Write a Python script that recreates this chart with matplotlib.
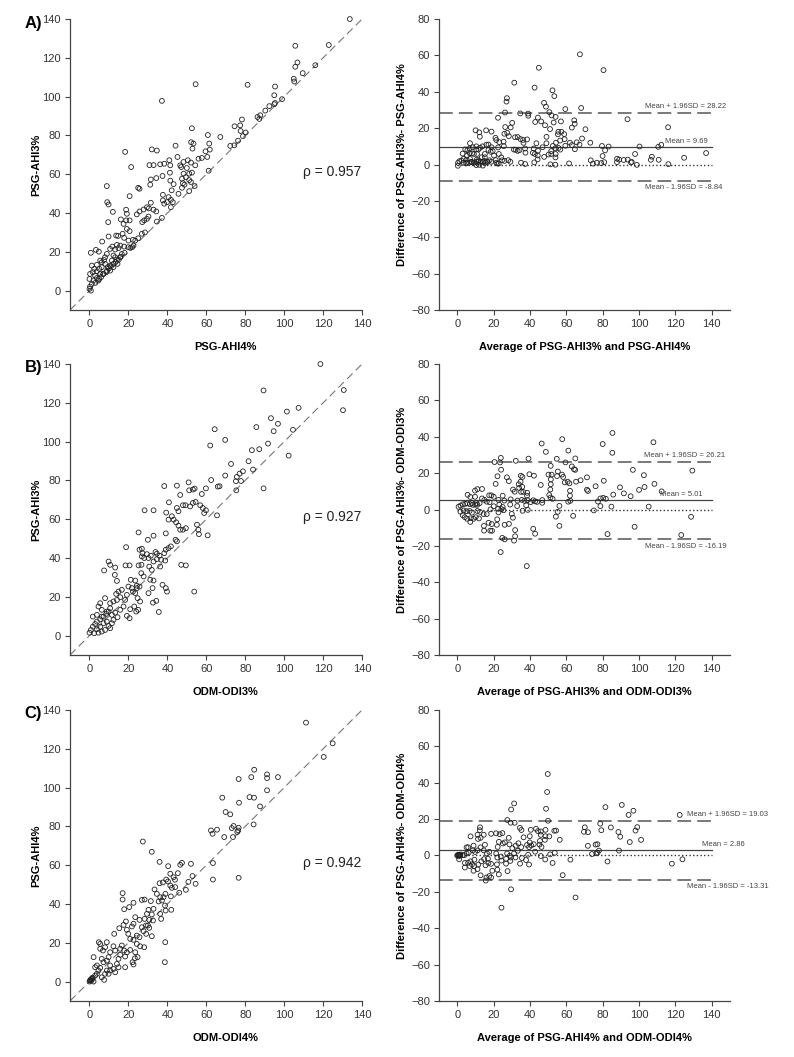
#Imports packages and dependencies
import numpy as np
import matplotlib
matplotlib.use('Agg')
import matplotlib.pyplot as plt

plt.rcParams['font.family'] = ['Liberation Sans', 'DejaVu Sans']

#Panel A: PSG-AHI4% (x) against PSG-AHI3% (y)
a_ahi4 = [
  133.7, 105.7, 122.9, 106.8, 105.7, 116.0, 109.5, 104.9, 105.2, 81.2,
  54.5, 37.2, 95.3, 94.9, 98.9, 94.9, 92.4, 90.3, 87.7, 86.3,
  87.2, 78.3, 74.5, 77.4, 77.6, 80.2, 78.8, 76.3, 74.4, 72.3,
  67.2, 60.8, 61.5, 61.8, 60.5, 61.2, 59.6, 52.6, 52.2, 53.4,
  52.9, 44.2, 32.0, 34.6, 18.3, 21.4, 8.9, 20.6, 9.1, 9.8,
  12.0, 9.6, 30.8, 32.9, 36.3, 38.4, 41.0, 41.5, 41.3, 31.5,
  34.3, 37.5, 31.2, 25.0, 25.7, 41.5, 43.2, 42.2, 45.2, 46.6,
  47.1, 48.3, 50.5, 52.1, 50.0, 51.2, 52.6, 54.3, 56.0, 57.7,
  48.3, 49.5, 47.5, 48.0, 48.8, 47.5, 45.7, 51.2, 52.1, 51.2,
  54.0, 37.7, 37.7, 38.4, 39.8, 40.6, 41.8, 42.8, 41.8, 37.2,
  31.5, 30.5, 32.9, 34.3, 29.5, 27.8, 25.7, 24.3, 30.3, 29.5,
  28.1, 27.1, 34.6, 26.9, 23.5, 22.3, 22.6, 20.0, 18.8, 19.2,
  20.6, 18.8, 16.1, 17.5, 19.2, 20.6, 17.0, 13.7, 14.7, 17.8,
  19.9, 21.9, 17.8, 15.8, 14.1, 14.9, 13.2, 11.7, 8.9, 10.6,
  6.5, 9.8, 3.3, 0.7, 4.8, 12.3, 13.2, 14.1, 11.5, 12.3,
  10.6, 8.0, 7.5, 6.3, 5.1, 3.8, 5.5, 2.9, 2.0, 1.2,
  0.3, 0.0, 0.7, 3.8, 4.6, 7.2, 1.7, 2.4, 1.2, 0.3,
  0.0, 8.0, 5.5, 9.4, 10.6, 8.6, 12.3, 14.4, 15.8, 16.6,
  3.8, 6.3, 5.0, 7.0, 9.0, 11.0, 13.5, 16.0, 18.0, 21.0,
  3.0, 6.0, 10.0, 15.0, 25.0, 28.5, 95.3]
a_ahi3 = [
  140.0, 126.2, 126.6, 117.6, 115.4, 116.2, 112.1, 109.2, 107.8, 106.1,
  106.4, 97.8, 105.2, 100.7, 98.7, 96.1, 95.1, 92.8, 90.4, 89.5,
  88.5, 88.2, 84.7, 85.2, 82.3, 81.5, 79.6, 77.3, 74.9, 74.6,
  79.2, 80.2, 75.8, 72.7, 68.9, 61.8, 71.8, 83.7, 76.5, 75.8,
  73.2, 74.7, 72.8, 72.2, 71.5, 63.7, 53.9, 48.7, 45.6, 44.4,
  40.6, 35.3, 64.7, 64.7, 65.1, 65.4, 67.2, 64.6, 60.8, 57.3,
  58.0, 59.1, 54.6, 53.0, 52.5, 56.7, 54.9, 51.7, 68.9, 64.6,
  63.7, 66.3, 67.2, 66.0, 63.2, 60.3, 60.8, 64.6, 68.0, 68.4,
  60.3, 58.5, 57.7, 55.4, 54.6, 53.0, 49.9, 57.0, 56.0, 51.3,
  53.9, 49.4, 46.5, 44.8, 45.6, 48.2, 46.8, 45.6, 43.0, 37.5,
  45.3, 42.4, 41.7, 40.8, 43.0, 41.8, 40.8, 39.3, 38.2, 37.0,
  36.2, 35.3, 35.6, 29.3, 25.8, 26.2, 23.2, 25.8, 41.7, 39.6,
  36.2, 36.2, 36.7, 34.4, 31.8, 30.7, 29.3, 28.4, 28.2, 27.2,
  22.4, 22.4, 22.7, 23.2, 23.6, 21.9, 21.2, 22.7, 18.9, 21.5,
  25.3, 27.9, 21.0, 19.5, 20.1, 18.1, 17.2, 16.0, 15.5, 13.8,
  12.9, 13.8, 15.8, 12.1, 11.2, 10.0, 8.6, 7.7, 5.2, 3.4,
  2.1, 0.9, 0.0, 6.5, 5.2, 8.6, 9.5, 11.2, 12.9, 8.6,
  6.0, 17.2, 15.5, 12.1, 10.3, 9.5, 12.1, 13.8, 17.2, 18.9,
  13.3, 14.6, 6.0, 8.5, 10.2, 12.5, 14.8, 17.5, 19.5, 22.0,
  4.0, 7.0, 11.5, 16.0, 27.0, 30.0, 96.7]

#Panel B: ODM-ODI3% (x) against PSG-AHI3% (y)
b_odi3 = [
  118.6, 89.4, 130.6, 130.2, 101.4, 107.4, 93.2, 96.8, 85.7, 64.3,
  94.6, 104.5, 69.7, 62.0, 91.7, 102.3, 83.4, 87.2, 81.7, 72.7,
  84.0, 69.7, 78.8, 77.1, 75.7, 77.8, 75.2, 75.4, 89.4, 62.5,
  65.9, 66.8, 59.8, 57.7, 54.0, 53.1, 50.9, 51.2, 46.6, 44.9,
  38.4, 48.0, 49.3, 51.7, 53.1, 54.5, 56.9, 58.2, 58.9, 59.8,
  65.5, 60.7, 55.2, 55.9, 56.2, 44.9, 45.7, 39.4, 40.8, 28.3,
  32.9, 25.2, 32.9, 30.0, 39.2, 43.2, 44.5, 45.7, 46.6, 48.0,
  49.5, 44.2, 44.9, 41.8, 40.6, 18.8, 40.6, 42.3, 39.2, 38.4,
  36.0, 34.6, 33.9, 36.8, 38.9, 31.5, 30.3, 34.6, 32.9, 30.7,
  32.0, 36.3, 25.7, 26.9, 27.2, 26.9, 28.1, 29.5, 25.2, 26.7,
  26.6, 18.5, 20.6, 9.8, 10.6, 13.2, 7.5, 13.0, 14.1, 21.2,
  23.5, 24.3, 25.7, 24.3, 27.8, 39.2, 39.8, 37.5, 31.2, 32.9,
  32.4, 30.3, 34.3, 32.6, 35.6, 47.1, 49.5, 53.8, 20.0, 21.8,
  22.3, 19.2, 18.3, 23.5, 24.7, 26.0, 23.0, 20.9, 20.6, 19.2,
  24.0, 25.0, 16.6, 14.9, 13.7, 15.8, 14.1, 12.3, 10.6, 17.5,
  15.8, 13.2, 11.5, 14.4, 10.6, 9.8, 8.6, 8.0, 6.3, 4.6,
  5.5, 7.2, 5.5, 3.8, 2.9, 1.7, 0.7, 0.0, 2.4, 3.8,
  5.5, 7.2, 8.9, 9.8, 11.5, 10.6, 8.0, 6.3, 4.6, 1.7,
  3.8, 12.3, 8.9, 6.3]
b_ahi3 = [
  140.0, 126.4, 126.6, 116.2, 115.5, 117.4, 112.1, 109.2, 107.5, 106.4,
  105.4, 106.1, 100.9, 98.0, 99.0, 92.8, 95.6, 96.1, 89.9, 88.5,
  85.6, 82.5, 84.7, 83.5, 81.8, 79.7, 79.6, 74.9, 75.9, 80.2,
  76.8, 77.0, 75.9, 73.0, 75.8, 75.3, 79.0, 74.9, 72.5, 77.3,
  77.1, 67.2, 67.2, 66.6, 68.4, 68.9, 67.2, 65.8, 63.2, 64.6,
  62.0, 51.7, 57.2, 54.6, 52.3, 65.8, 64.1, 63.4, 68.7, 64.6,
  64.6, 53.2, 51.5, 49.4, 52.7, 59.8, 58.4, 56.7, 54.6, 54.6,
  55.4, 49.4, 48.6, 46.0, 45.1, 45.6, 59.8, 61.5, 44.3, 42.5,
  41.2, 42.2, 43.1, 39.1, 38.7, 41.2, 40.0, 39.4, 38.2, 35.6,
  33.9, 35.6, 44.3, 44.8, 42.5, 40.8, 40.0, 42.0, 36.2, 36.5,
  32.2, 36.2, 36.2, 38.2, 36.5, 35.1, 33.6, 31.3, 28.2, 28.8,
  28.4, 25.7, 25.3, 24.5, 30.5, 24.5, 22.7, 26.2, 28.8, 28.4,
  24.5, 21.9, 17.9, 17.0, 12.2, 36.5, 36.2, 22.7, 25.3, 24.5,
  22.7, 21.0, 18.4, 21.9, 19.3, 17.6, 15.0, 13.6, 9.0, 10.2,
  12.4, 13.3, 23.6, 22.7, 21.5, 19.8, 18.4, 17.6, 16.7, 15.0,
  13.3, 11.9, 10.7, 9.5, 14.1, 12.4, 11.2, 19.3, 13.3, 15.0,
  16.7, 9.8, 8.4, 7.2, 6.0, 4.6, 2.9, 1.5, 1.2, 3.3,
  4.6, 6.4, 7.2, 5.0, 6.4, 3.8, 2.9, 2.1, 1.5, 9.8,
  10.7, 8.1, 12.4, 9.8]

#Panel C: ODM-ODI4% (x) against PSG-AHI4% (y)
c_odi4 = [
  111.2, 124.9, 120.3, 84.6, 76.6, 83.1, 91.2, 91.2, 96.8, 91.2,
  68.2, 82.2, 84.5, 76.8, 87.6, 69.9, 72.3, 62.4, 63.2, 65.5,
  74.0, 73.1, 76.6, 76.4, 75.9, 69.2, 73.7, 84.3, 63.4, 63.4,
  76.6, 52.1, 47.5, 46.6, 45.4, 40.4, 36.0, 32.0, 27.4, 52.9,
  54.5, 50.8, 49.5, 46.1, 43.2, 43.9, 41.5, 44.0, 40.3, 39.4,
  41.5, 42.3, 36.0, 37.7, 39.0, 38.0, 41.8, 42.0, 33.4, 34.6,
  35.5, 36.3, 37.2, 38.8, 39.1, 36.3, 36.8, 38.9, 38.7, 17.0,
  17.0, 17.8, 26.9, 28.3, 22.6, 20.4, 31.5, 30.3, 32.9, 32.0,
  29.5, 28.3, 30.7, 32.6, 25.7, 23.5, 26.9, 29.0, 30.0, 30.7,
  22.6, 21.8, 18.7, 17.5, 15.3, 12.7, 19.2, 19.9, 27.8, 29.1,
  32.0, 24.3, 25.7, 20.9, 22.6, 24.3, 26.0, 28.1, 23.5, 24.7,
  23.3, 22.6, 22.1, 20.9, 19.2, 16.6, 15.8, 17.8, 18.3, 15.8,
  14.9, 18.3, 12.3, 13.2, 10.6, 9.8, 8.9, 8.0, 6.9, 5.5,
  4.8, 5.5, 2.1, 6.3, 7.2, 8.9, 10.6, 12.3, 13.2, 8.9,
  8.0, 5.5, 4.6, 3.8, 2.9, 6.3, 7.5, 1.2, 0.3, 0.0,
  2.1, 1.7, 9.8, 10.6, 3.8, 2.9, 14.1, 14.9, 0.5, 1.0,
  1.5, 0.8]
c_ahi4 = [
  133.5, 122.8, 115.8, 109.2, 104.4, 105.4, 106.8, 104.9, 105.4, 98.6,
  94.8, 95.1, 94.8, 92.2, 90.3, 87.4, 86.2, 77.9, 76.2, 78.3,
  80.2, 79.1, 79.3, 77.9, 77.1, 74.5, 74.5, 81.0, 61.1, 52.6,
  53.5, 60.7, 61.2, 60.2, 55.9, 59.5, 61.7, 66.9, 72.2, 54.4,
  50.4, 51.4, 47.3, 45.8, 53.8, 52.5, 55.6, 48.7, 51.6, 52.6,
  49.5, 48.3, 50.7, 51.1, 45.2, 43.5, 43.9, 37.0, 47.5, 45.2,
  41.3, 43.5, 41.8, 39.2, 36.6, 34.9, 32.3, 20.3, 10.0, 45.6,
  42.3, 37.3, 42.1, 42.3, 40.6, 38.4, 41.5, 37.0, 37.5, 34.6,
  34.9, 32.3, 31.8, 31.5, 31.8, 33.2, 28.0, 28.9, 28.9, 27.7,
  29.8, 28.4, 31.0, 29.2, 27.5, 24.6, 26.7, 24.6, 26.0, 24.6,
  23.4, 23.7, 22.9, 22.0, 21.5, 19.4, 18.2, 17.7, 15.1, 12.6,
  12.0, 8.8, 10.0, 16.3, 15.1, 18.6, 16.9, 16.0, 12.9, 13.8,
  11.7, 7.4, 18.2, 16.0, 15.1, 12.6, 20.3, 17.7, 16.0, 16.9,
  20.3, 19.4, 12.6, 11.7, 10.0, 10.8, 8.3, 6.5, 4.8, 5.7,
  4.0, 7.1, 5.7, 4.0, 3.1, 2.2, 0.9, 1.4, 0.5, 0.0,
  0.0, 1.7, 4.0, 5.7, 8.3, 7.4, 9.1, 7.4, 0.8, 0.5,
  2.0, 1.2]

#Labels, correlation and Bland-Altman statistics
panel_tags = ['A)', 'B)', 'C)']
scatter_xlabels = ['PSG-AHI4%', 'ODM-ODI3%', 'ODM-ODI4%']
scatter_ylabels = ['PSG-AHI3%', 'PSG-AHI3%', 'PSG-AHI4%']
ba_xlabels = ['Average of PSG-AHI3% and PSG-AHI4%',
              'Average of PSG-AHI3% and ODM-ODI3%',
              'Average of PSG-AHI4% and ODM-ODI4%']
ba_ylabels = ['Difference of PSG-AHI3%- PSG-AHI4%',
              'Difference of PSG-AHI3%- ODM-ODI3%',
              'Difference of PSG-AHI4%- ODM-ODI4%']
rho_values = ['0.957', '0.927', '0.942']
ba_mean = [9.69, 5.01, 2.86]
ba_upper = [28.22, 26.21, 19.03]
ba_lower = [-8.84, -16.19, -13.31]

#Layout (figure fractions) and where the mean/limit texts end (data x)
row_bottoms = [0.7067, 0.3803, 0.0530]
tag_y = [0.978, 0.652, 0.325]
upper_text_x = [148, 147.3, 171]
mean_text_x = [137.8, 135, 158]
lower_text_x = [146, 148, 171]

SPINE = '#444444'
TEXT = '#333333'


def style_axes(ax):
  for side in ['top', 'right']:
    ax.spines[side].set_visible(False)
  for side in ['left', 'bottom']:
    ax.spines[side].set_color(SPINE)
    ax.spines[side].set_linewidth(0.9)
  ax.tick_params(direction='out', length=3.5, width=0.8, color=SPINE,
                 labelsize=8, labelcolor=TEXT, pad=3)


def scatter_panel(ax, x, y, xlabel, ylabel, rho):
  ax.plot([-10, 140], [-10, 140], color='#777777', lw=0.8, dashes=(7, 4))
  ax.scatter(x, y, s=12, facecolors='none', edgecolors='#222222',
             linewidths=0.6, clip_on=False, zorder=3)
  ax.set_xlim(-10, 140)
  ax.set_ylim(-10, 140)
  ax.set_xticks(range(0, 141, 20))
  ax.set_yticks(range(0, 141, 20))
  style_axes(ax)
  ax.set_xlabel(xlabel, fontsize=8, fontweight='bold', labelpad=9, x=0.533)
  ax.set_ylabel(ylabel, fontsize=8, fontweight='bold', labelpad=1)
  ax.text(139.5, 61, '\u03c1 = ' + rho, ha='right', va='center', fontsize=10, color='#222222')


def ba_panel(ax, x, y, i):
  x = np.array(x)
  y = np.array(y)
  avg = (x + y) / 2
  diff = y - x
  ax.plot([-10, 140], [ba_upper[i]] * 2, color='#555555', lw=1.1, dashes=(9, 4))
  ax.plot([-10, 140], [ba_lower[i]] * 2, color='#555555', lw=1.1, dashes=(9, 4))
  ax.plot([-10, 140], [ba_mean[i]] * 2, color='#444444', lw=0.9)
  ax.plot([0, 140], [0, 0], color='#333333', lw=1.0, ls=':')
  ax.scatter(avg, diff, s=12, facecolors='none', edgecolors='#222222',
             linewidths=0.6, clip_on=False, zorder=3)
  ax.set_xlim(-10, 150)
  ax.set_ylim(-80, 80)
  ax.set_xticks(range(0, 141, 20))
  ax.set_yticks(range(-80, 81, 20))
  style_axes(ax)
  ax.set_xlabel(ba_xlabels[i], fontsize=8, fontweight='bold', labelpad=9)
  ax.set_ylabel(ba_ylabels[i], fontsize=8, fontweight='bold', labelpad=3)
  kw = dict(ha='right', va='center', fontsize=5.5, color='#444444', clip_on=False)
  ax.text(upper_text_x[i], ba_upper[i] + 3.5, 'Mean + 1.96SD = {:.2f}'.format(ba_upper[i]), **kw)
  ax.text(mean_text_x[i], ba_mean[i] + 3.2, 'Mean = {:.2f}'.format(ba_mean[i]), **kw)
  ax.text(lower_text_x[i], ba_lower[i] - 4.0, 'Mean - 1.96SD = {:.2f}'.format(ba_lower[i]), **kw)


fig = plt.figure(figsize=(7.94, 10.57), dpi=100)
pairs = [(a_ahi4, a_ahi3), (b_odi3, b_ahi3), (c_odi4, c_ahi4)]

for i, (xs, ys) in enumerate(pairs):
  ax_left = fig.add_axes([0.0882, row_bottoms[i], 0.3678, 0.2753])
  scatter_panel(ax_left, xs, ys, scatter_xlabels[i], scatter_ylabels[i], rho_values[i])
  ax_right = fig.add_axes([0.5529, row_bottoms[i], 0.3665, 0.2753])
  ba_panel(ax_right, xs, ys, i)
  fig.text(0.031, tag_y[i], panel_tags[i], fontsize=12, fontweight='bold', va='center')

fig.savefig('out.png', dpi=100)
